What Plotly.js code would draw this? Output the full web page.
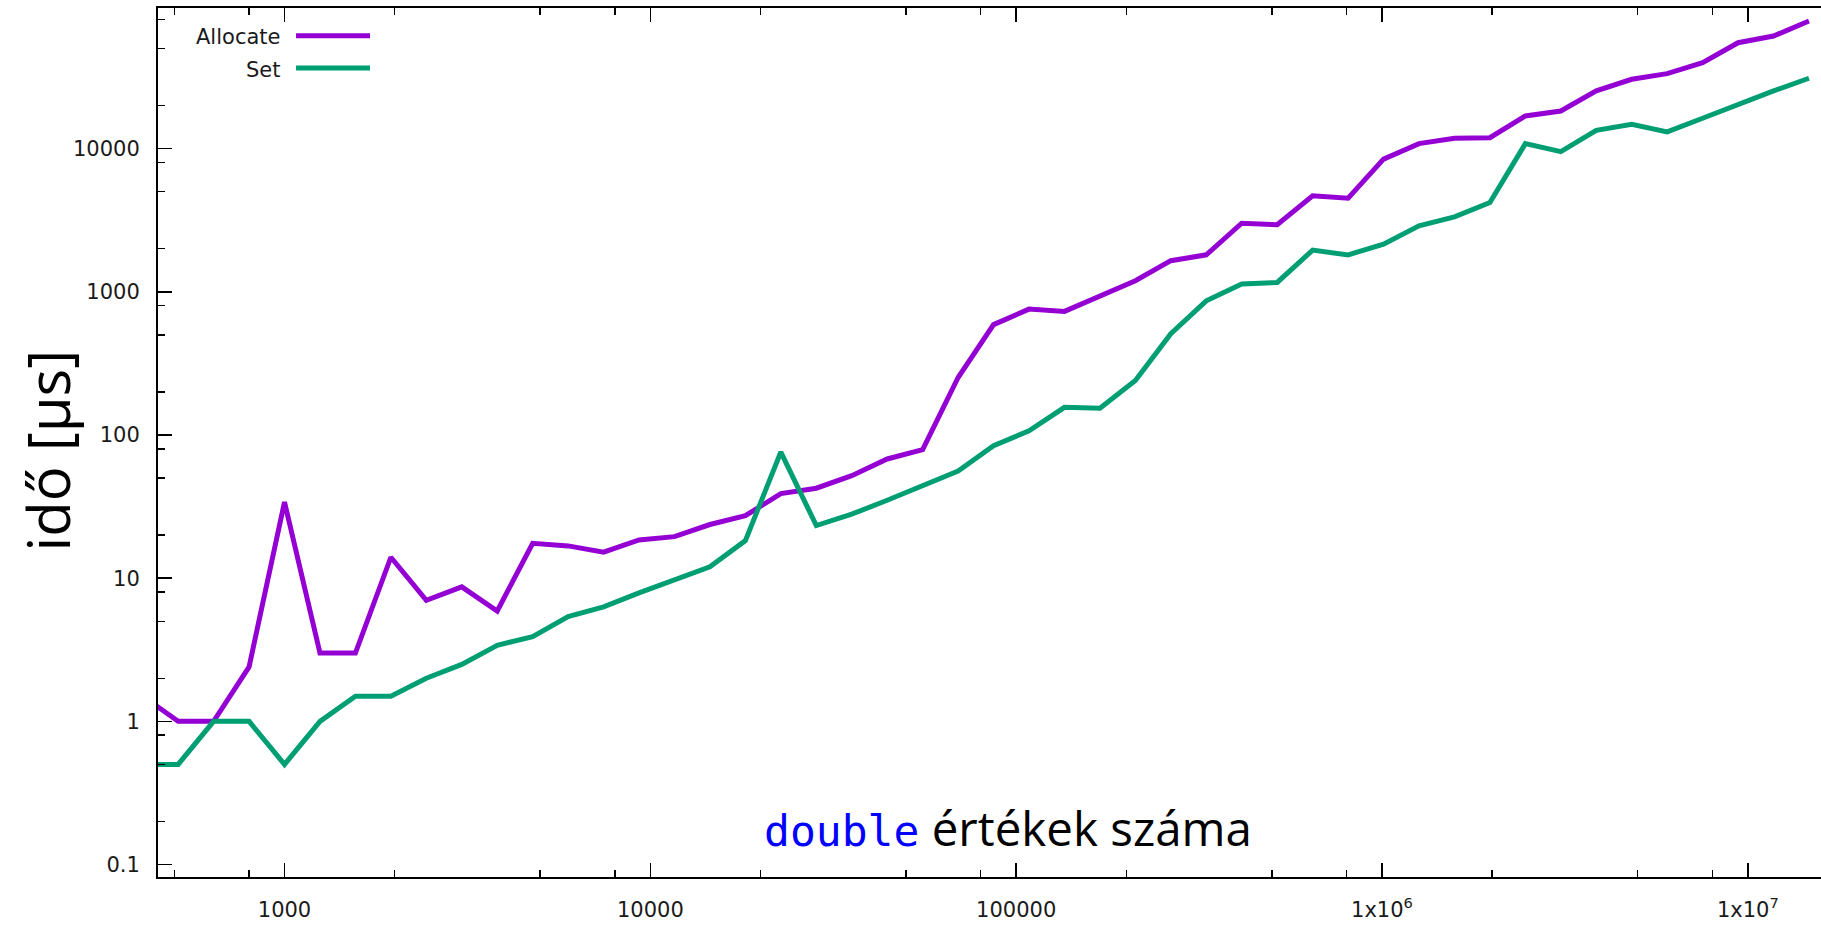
<!DOCTYPE html>
<html>
<head>
<meta charset="utf-8">
<script src="https://cdn.plot.ly/plotly-3.0.1.min.js"></script>
<style>
html, body { margin: 0; padding: 0; background: #fff; }
#chart { width: 1821px; height: 925px; }
</style>
</head>
<body>
<div id="chart"></div>
<script>
// ---- data ----
const elementCounts = [
  409.6, 512, 640, 800, 1000, 1250, 1562.5, 1953.125, 2441.406, 3051.758,
  3814.697, 4768.372, 5960.464, 7450.581, 9313.226, 11641.53, 14551.92, 18189.89, 22737.37, 28421.71,
  35527.14, 44408.92, 55511.15, 69388.94, 86736.17, 108420.2, 135525.3, 169406.6, 211758.2, 264697.8,
  330872.2, 413590.3, 516987.9, 646234.9, 807793.6, 1009742, 1262177, 1577722, 1972152, 2465190,
  3081488, 3851860, 4814825, 6018531, 7523164, 9403955, 11754944, 14693679
];
const allocateTimes = [
  1.5, 1, 1, 2.4, 34, 3, 3, 14, 7, 8.7,
  5.9, 17.5, 16.8, 15.2, 18.5, 19.5, 23.7, 27.3, 39, 42.5,
  52, 68, 79, 252, 590, 757, 730, 940, 1194, 1650,
  1812, 3013, 2937, 4677, 4508, 8440, 10830, 11820, 11930, 16900,
  18300, 25300, 30500, 33400, 39800, 54900, 61100, 77800
];
const setTimes = [
  0.5, 0.5, 1, 1, 0.5, 1, 1.5, 1.5, 2, 2.5,
  3.4, 3.9, 5.4, 6.3, 7.9, 9.7, 12, 18.3, 76, 23.3,
  28, 35, 44, 56, 84, 107, 156, 154, 240, 510,
  865, 1133, 1162, 1954, 1811, 2152, 2893, 3337, 4198, 10830,
  9530, 13430, 14800, 13100, 16300, 20400, 25300, 31000
];
const seriesNames = ['Allocate', 'Set'];
const xTickVals = [1000, 10000, 100000, 1000000, 10000000];
const xTickText = ['1000', '10000', '100000', '1x10<sup>6</sup>', '1x10<sup>7</sup>'];
const xMinorVals = [500, 800, 2000, 5000, 8000, 20000, 50000, 80000, 200000, 500000, 800000, 2000000, 5000000, 8000000];
const yTickVals = [0.1, 1, 10, 100, 1000, 10000];
const yTickText = ['0.1', '1', '10', '100', '1000', '10000'];
const yMinorVals = [0.2, 0.5, 0.8, 2, 5, 8, 20, 50, 80, 200, 500, 800, 2000, 5000, 8000, 20000, 50000, 80000];
const yTitle = 'idő [µs]';
const xTitleCode = 'double';
const xTitleRest = ' értékek száma';

// ---- styling ----
const PURPLE = '#9400d3';
const GREEN = '#009e73';
const tickFont = { family: 'DejaVu Sans, Verdana, sans-serif', size: 21, color: '#1a1a1a' };

const traces = [
  { x: elementCounts, y: allocateTimes, name: seriesNames[0], type: 'scatter', mode: 'lines',
    line: { color: PURPLE, width: 5 }, showlegend: false },
  { x: elementCounts, y: setTimes, name: seriesNames[1], type: 'scatter', mode: 'lines',
    line: { color: GREEN, width: 5 }, showlegend: false }
];

const axisCommon = {
  type: 'log',
  showgrid: false,
  zeroline: false,
  showline: true,
  linecolor: '#000',
  linewidth: 2,
  ticks: 'inside',
  ticklen: 14,
  tickwidth: 1.5,
  tickcolor: '#000',
  tickmode: 'array',
  tickfont: tickFont
};

const layout = {
  width: 1821,
  height: 925,
  paper_bgcolor: '#fff',
  plot_bgcolor: '#fff',
  margin: { l: 158, r: 0, t: 8, b: 48 },
  showlegend: false,
  xaxis: Object.assign({}, axisCommon, {
    range: [Math.log10(451), 7.2],
    mirror: 'allticks',
    tickvals: xTickVals,
    ticktext: xTickText,
    ticklabelstandoff: 13,
    minor: { tickmode: 'array', tickvals: xMinorVals, ticks: 'inside', ticklen: 7, tickwidth: 1.5, tickcolor: '#000', showgrid: false }
  }),
  yaxis: Object.assign({}, axisCommon, {
    range: [-1.087, 4.982],
    mirror: false,
    tickvals: yTickVals,
    ticktext: yTickText,
    ticklabelstandoff: 12,
    minor: { tickmode: 'array', tickvals: yMinorVals, ticks: 'inside', ticklen: 7, tickwidth: 1.5, tickcolor: '#000', showgrid: false }
  }),
  annotations: [
    { xref: 'paper', yref: 'paper', x: -0.0667, y: 0.491, xanchor: 'center', yanchor: 'middle', showarrow: false,
      textangle: -90, text: yTitle,
      font: { family: 'Open Sans, sans-serif', size: 58, color: '#000' } },
    { xref: 'paper', yref: 'paper', x: 0.511, y: 0.057, xanchor: 'center', yanchor: 'middle', showarrow: false,
      text: '<span style="font-family:DejaVu Sans Mono, monospace;color:#0000ff;font-size:43px">' + xTitleCode + '</span>' + xTitleRest,
      font: { family: 'Open Sans, sans-serif', size: 47.5, color: '#000' } },
    { xref: 'paper', yref: 'paper', x: 0.0746, y: 0.967, xanchor: 'right', yanchor: 'middle', showarrow: false,
      text: seriesNames[0], font: tickFont },
    { xref: 'paper', yref: 'paper', x: 0.0746, y: 0.929, xanchor: 'right', yanchor: 'middle', showarrow: false,
      text: seriesNames[1], font: tickFont }
  ],
  shapes: [
    { type: 'line', xref: 'paper', yref: 'paper', x0: 0.083, x1: 0.1275, y0: 0.968, y1: 0.968,
      line: { color: PURPLE, width: 5 } },
    { type: 'line', xref: 'paper', yref: 'paper', x0: 0.083, x1: 0.1275, y0: 0.931, y1: 0.931,
      line: { color: GREEN, width: 5 } }
  ]
};

Plotly.newPlot('chart', traces, layout, { displayModeBar: false, staticPlot: true });
</script>
</body>
</html>
